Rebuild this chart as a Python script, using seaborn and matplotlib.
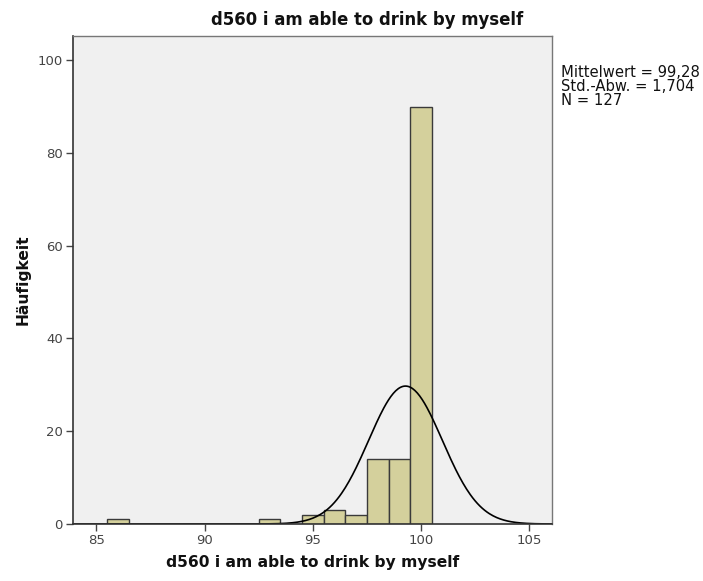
import numpy as np
import pandas as pd
import matplotlib
matplotlib.use("Agg")
import matplotlib.pyplot as plt
import seaborn as sns

# values of d560 and how often each occurs
scores = [86, 93, 95, 96, 97, 98, 99, 100]
counts = [1, 1, 2, 3, 2, 14, 14, 90]

title = "d560 i am able to drink by myself"
y_label = "Häufigkeit"
stats_text = "Mittelwert = 99,28\nStd.-Abw. = 1,704\nN = 127"
x_ticks = [85, 90, 95, 100, 105]
y_ticks = [0, 20, 40, 60, 80, 100]

sns.set_style("white")
plt.rcParams["font.family"] = ["DejaVu Sans"]

df = pd.DataFrame({"score": scores, "count": counts})

fig = plt.figure(figsize=(7.03, 5.81), dpi=100)
ax = fig.add_axes([0.1034, 0.0981, 0.6816, 0.8399])
ax.set_facecolor("#F0F0F0")

sns.histplot(
    data=df, x="score", weights="count", discrete=True,
    color="#D4D09C", alpha=1.0, edgecolor="#3a3a3a", linewidth=1.0, ax=ax,
)

# normal curve scaled to counts (bin width 1)
n = sum(counts)
mean = np.average(scores, weights=counts)
sd = np.sqrt(np.sum(np.array(counts) * (np.array(scores) - mean) ** 2) / (n - 1))
xs = np.linspace(83.9, 106.05, 400)
ys = n / (sd * np.sqrt(2 * np.pi)) * np.exp(-0.5 * ((xs - mean) / sd) ** 2)
sns.lineplot(x=xs, y=ys, color="black", linewidth=1.2, ax=ax)

ax.set_xlim(83.9, 106.05)
ax.set_ylim(0, 105.2)
ax.set_xticks(x_ticks)
ax.set_yticks(y_ticks)
ax.tick_params(axis="both", direction="out", length=5, width=1, labelsize=9.5,
               colors="#444444", bottom=True, left=True, pad=2)
for side in ["top", "right"]:
    ax.spines[side].set_color("#777777")
    ax.spines[side].set_linewidth(1.0)
for side in ["left", "bottom"]:
    ax.spines[side].set_color("#333333")
    ax.spines[side].set_linewidth(1.2)

fig.text(367 / 703, 1 - 20 / 581, title, fontsize=11.9, fontweight="bold",
         color="#111111", ha="center", va="center")
ax.set_xlabel(title, fontsize=11.2, fontweight="bold", labelpad=6,
              color="#111111")
ax.set_ylabel(y_label, fontsize=11.2, fontweight="bold", color="#111111")
ax.yaxis.set_label_coords(-0.088, 0.5)

fig.text(0.798, 0.888, stats_text, fontsize=10.6, va="top", ha="left",
         linespacing=0.92, color="#111111")

fig.savefig("out.png", dpi=100)
